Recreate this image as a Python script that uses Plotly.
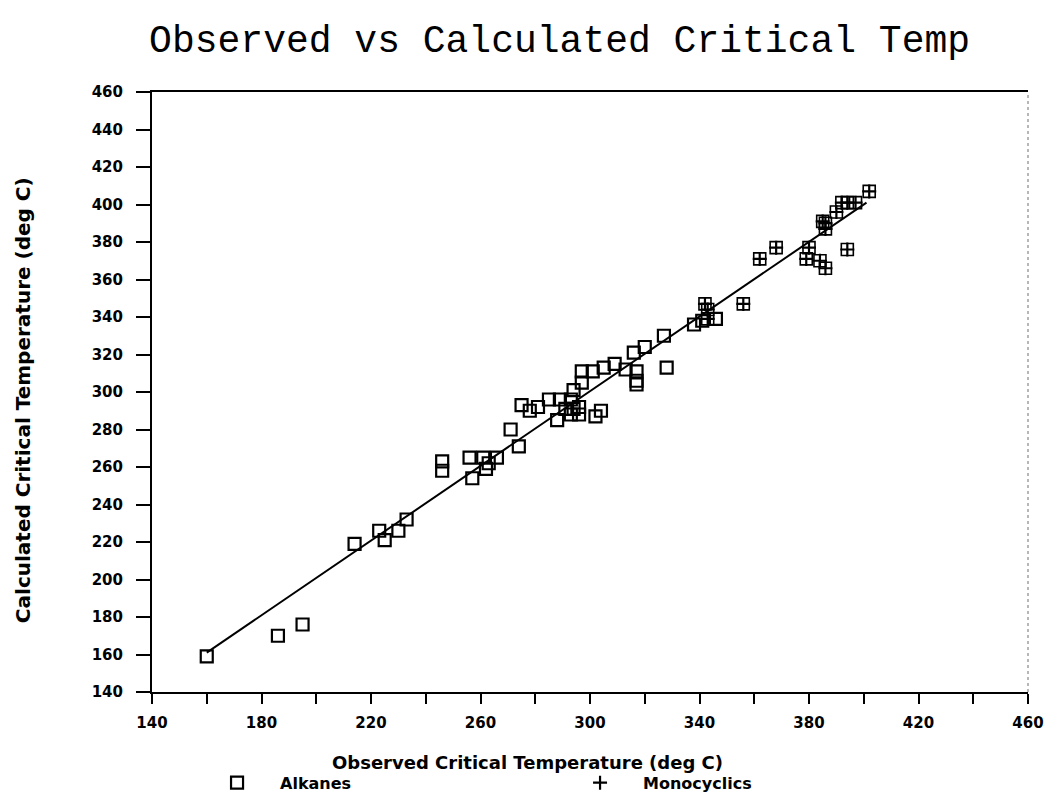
import plotly.graph_objects as go

# Alkanes: observed (x) vs calculated (y) critical temperature, deg C
alk_obs = [160, 186, 195, 214, 223, 225, 230, 233, 246, 246, 256, 257, 261, 262, 263, 266,
           271, 274, 275, 278, 281, 285, 289, 293, 294, 297, 297, 301, 305, 309, 313, 316,
           320, 317, 317, 317, 327, 328, 291, 294, 296, 293, 296, 304, 302, 288, 338, 346, 341]
alk_calc = [159, 170, 176, 219, 226, 221, 226, 232, 263, 258, 265, 254, 265, 259, 262, 265,
            280, 271, 293, 290, 292, 296, 296, 296, 301, 305, 311, 311, 313, 315, 312, 321,
            324, 311, 306, 304, 330, 313, 291, 291, 292, 288, 288, 290, 287, 285, 336, 339, 338]

# Monocyclics
mono_obs = [342, 343, 343, 356, 362, 368, 380, 379, 384, 386, 394, 385, 386, 386, 390, 392, 394, 397, 402]
mono_calc = [347, 344, 339, 347, 371, 377, 377, 371, 370, 366, 376, 391, 390, 387, 396, 401, 401, 401, 407]

# Fitted line
fit_x = [160, 401]
fit_y = [161, 401]

x_tickvals = list(range(140, 461, 20))
x_ticktext = ["140", "", "180", "", "220", "", "260", "", "300", "", "340", "", "380", "", "420", "", "460"]
y_tickvals = list(range(140, 461, 20))
y_ticktext = [str(v) for v in y_tickvals]

font_main = "DejaVu Sans"

fig = go.Figure()
fig.add_trace(go.Scatter(
    x=fit_x, y=fit_y, mode="lines", line=dict(color="black", width=2),
    showlegend=False, hoverinfo="skip"))
fig.add_trace(go.Scatter(
    x=alk_obs, y=alk_calc, mode="markers", name="Alkanes",
    marker=dict(symbol="square-open", size=12, color="black", line=dict(width=2.2, color="black"))))
fig.add_trace(go.Scatter(
    x=mono_obs, y=mono_calc, mode="markers", showlegend=False, hoverinfo="skip",
    marker=dict(symbol="square-open", size=12, color="black", line=dict(width=1.6, color="black"))))
fig.add_trace(go.Scatter(
    x=mono_obs, y=mono_calc, mode="markers", name="Monocyclics",
    marker=dict(symbol="cross-thin-open", size=10, color="black", line=dict(width=2.2, color="black"))))

fig.update_layout(
    width=1044, height=794,
    margin=dict(l=152, r=16, t=92, b=102, autoexpand=False),
    paper_bgcolor="white", plot_bgcolor="white",
    title=dict(text="Observed vs Calculated Critical Temp", x=0.536, xanchor="center",
               y=0.951, yanchor="middle",
               font=dict(family="Liberation Mono", size=38, color="black")),
    font=dict(family=font_main, color="black"),
    showlegend=True,
    legend=dict(orientation="h", x=0.048, xanchor="left", y=-0.123, yanchor="top",
                itemwidth=76,
                font=dict(family=font_main, size=16, color="black", weight="bold"),
                entrywidth=272, entrywidthmode="pixels", bgcolor="rgba(0,0,0,0)"),
    shapes=[dict(type="line", xref="paper", yref="paper", x0=1, x1=1, y0=0, y1=1,
                 line=dict(color="#888888", width=1.2, dash="dot"))],
    annotations=[
        dict(text="Observed Critical Temperature (deg C)", xref="paper", yref="paper",
             x=0.429, y=-0.1167, xanchor="center", yanchor="middle", showarrow=False,
             font=dict(family=font_main, size=18, color="black", weight="bold")),
        dict(text="Calculated Critical Temperature (deg C)", xref="paper", yref="paper",
             x=-0.148, y=0.487, xanchor="center", yanchor="middle", showarrow=False,
             textangle=-90,
             font=dict(family=font_main, size=20, color="black", weight="bold")),
    ],
)
fig.update_xaxes(
    range=[140, 460], tickmode="array", tickvals=x_tickvals, ticktext=x_ticktext,
    ticks="outside", ticklen=10, tickwidth=1.5, tickcolor="black", ticklabelstandoff=6,
    showline=True, linewidth=2, linecolor="black", mirror=True,
    showgrid=False, zeroline=False,
    tickfont=dict(family=font_main, size=15, color="black", weight="bold"),
)
fig.update_yaxes(
    range=[140, 460], tickmode="array", tickvals=y_tickvals, ticktext=y_ticktext,
    ticks="outside", ticklen=14, tickwidth=1.5, tickcolor="black", ticklabelstandoff=10,
    showline=True, linewidth=2, linecolor="black", mirror=False,
    showgrid=False, zeroline=False,
    tickfont=dict(family=font_main, size=15, color="black", weight="bold"),
)

fig.write_html("out.html")
